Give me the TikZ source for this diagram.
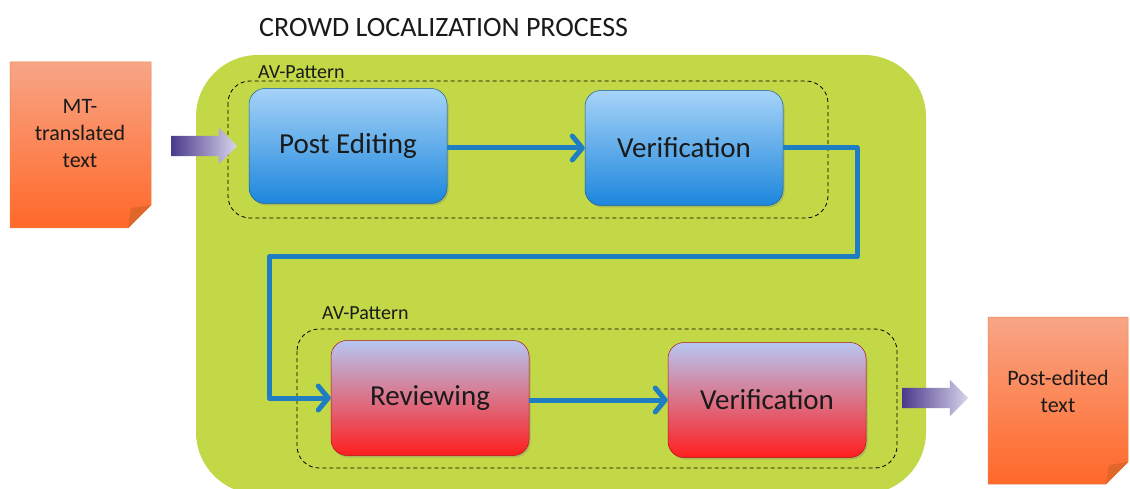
\documentclass[tikz,border=0pt]{standalone}
\usepackage{fontspec}
\setmainfont{Carlito}
\usetikzlibrary{arrows.meta,shapes.arrows,shadows}
\definecolor{grn}{HTML}{C2D846}
\definecolor{flow}{HTML}{1E7EC1}
\definecolor{txt}{HTML}{1A1A1A}
\definecolor{bluetop}{HTML}{A6D3F8}
\definecolor{bluebot}{HTML}{1C86DC}
\definecolor{redtop}{HTML}{B6C6F2}
\definecolor{redbot}{HTML}{FF1E1E}
\definecolor{ortop}{HTML}{F8A586}
\definecolor{orbot}{HTML}{FF6828}
\definecolor{orfold}{HTML}{E0662A}
\definecolor{purdark}{HTML}{4A3A8C}
\definecolor{purlight}{HTML}{D8D4EC}
\tikzset{
  stagebox/.style={rounded corners=16pt, minimum width=198pt, minimum height=115pt,
    draw=#1!70!black, line width=0.5pt, text=txt, font=\fontsize{29}{31}\selectfont,
    drop shadow={shadow xshift=1.5pt, shadow yshift=-2pt, opacity=0.35}},
  bluebox/.style={stagebox=bluebot, top color=bluetop, bottom color=bluebot},
  redbox/.style={stagebox=redbot, top color=redtop, bottom color=redbot},
  patternbox/.style={draw=black, line width=0.8pt, rounded corners=22pt, dash pattern=on 4pt off 3pt},
  patternlabel/.style={text=txt, font=\fontsize{20}{22}\selectfont, anchor=base west, inner sep=0pt},
  flowline/.style={draw=flow, line width=5pt, line join=round,
    -{Straight Barb[length=10pt,width=24pt,line width=5pt,round]}},
  notetext/.style={text=txt, font=\fontsize{22}{27}\selectfont, align=center},
  fatarrow/.style={single arrow, single arrow head extend=8pt, minimum height=66pt,
    inner xsep=0pt, inner ysep=10pt, left color=purdark, right color=purlight, draw=none,
    shape border rotate=0},
}
\begin{document}
\begin{tikzpicture}[x=1pt,y=-1pt]
\useasboundingbox (0,0) rectangle (1130,489);
\fill[white] (0,0) rectangle (1130,489);
% title
\node[text=txt, font=\fontsize{28}{30}\selectfont, anchor=base west, inner sep=0pt] (title) at (259,37) {CROWD LOCALIZATION PROCESS};
% green process area
\begin{scope}
\clip (0,0) rectangle (1130,489);
\fill[grn, rounded corners=62pt] (196,55) rectangle (926,494);
\end{scope}
% input note
\shade[top color=ortop, bottom color=orbot, draw=orfold!80!white, line width=0.5pt]
  (10,62) -- (151,62) -- (151,205) -- (128,228) -- (10,228) -- cycle;
\fill[orfold] (151,205) -- (128,228) -- (131,208) -- cycle;
\node[notetext] (mt) at (80,134) {MT-\\translated\\text};
% output note
\shade[top color=ortop, bottom color=orbot, draw=orfold!80!white, line width=0.5pt]
  (988,317) -- (1128,317) -- (1128,462) -- (1106,484) -- (988,484) -- cycle;
\fill[orfold] (1128,462) -- (1106,484) -- (1109,465) -- cycle;
\node[notetext] (pe2) at (1058,391) {Post-edited\\text};
% pattern boxes
\draw[patternbox] (228,81) rectangle (828,218);
\node[patternlabel] (av1) at (258,79) {AV-Pattern};
\draw[patternbox] (297,329) rectangle (897,468);
\node[patternlabel] (av2) at (322,319) {AV-Pattern};
% stage boxes
\node[bluebox] (edit) at (348,146) {Post Editing};
\node[bluebox] (ver1) at (684,148) {Verification};
\node[redbox] (rev) at (430,398) {Reviewing};
\node[redbox] (ver2) at (767,400) {Verification};
% in/out arrows
\node[fatarrow] (inarrow) at (199,146) {};
\node[fatarrow] (outarrow) at (930,398) {};
% flow connectors
\coordinate (turn1) at (857,257);
\coordinate (turn2) at (269,257);
\draw[flowline] (edit.east |- ver1.west) -- (ver1.west);
\draw[flowline] (ver1.east) -| (turn1) -- (turn2) |- (rev.west);
\draw[flowline] (rev.east |- ver2.west) -- (ver2.west);
\end{tikzpicture}
\end{document}
